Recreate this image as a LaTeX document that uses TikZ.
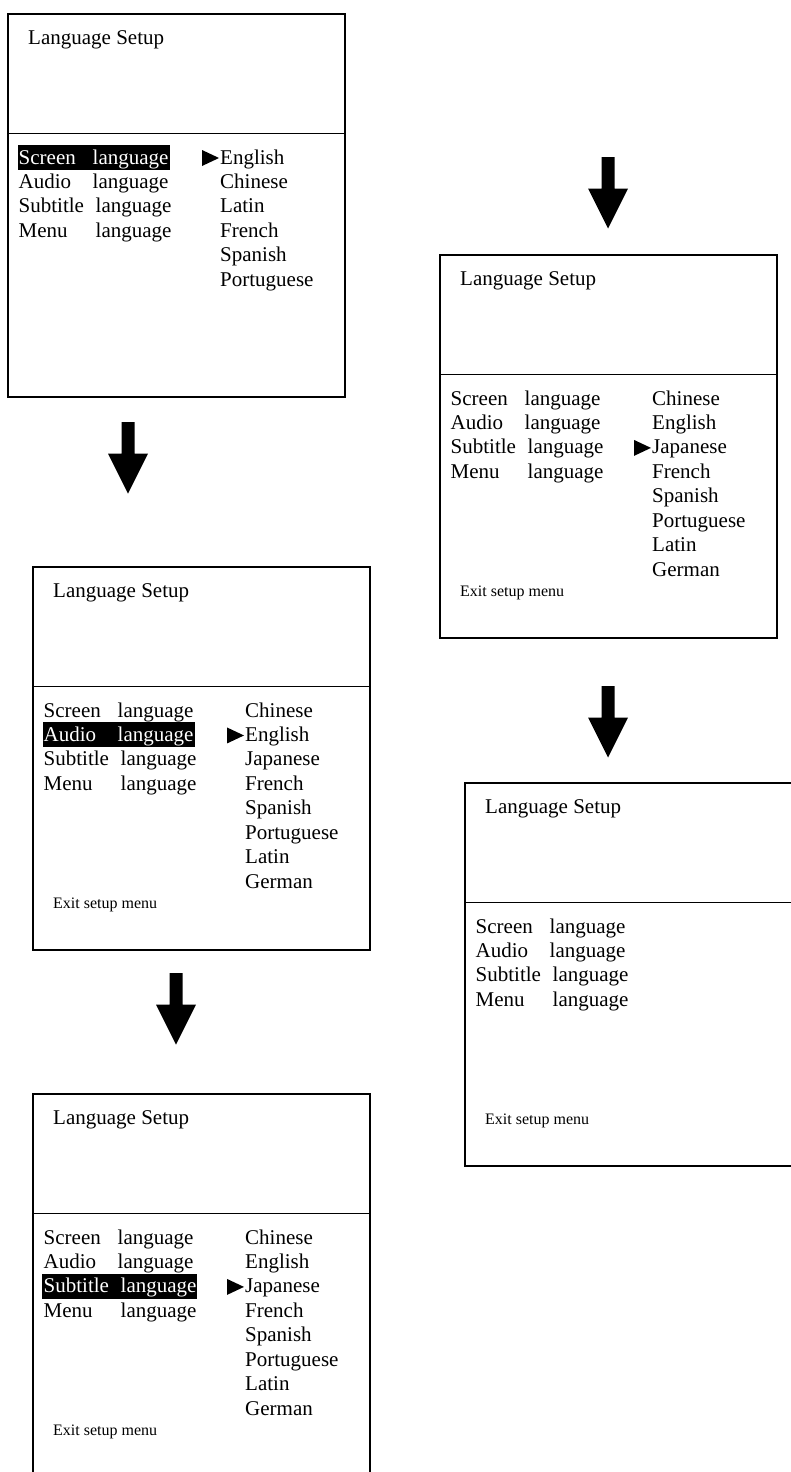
\documentclass[tikz,border=0pt]{standalone}
\usepackage{fontspec}
\setmainfont{Liberation Serif}
\usetikzlibrary{calc}
\tikzset{
  frame/.style={draw, line width=1.8pt, minimum width=337pt, minimum height=383pt, anchor=north west, inner sep=0pt},
  divider/.style={line width=1.8pt},
  txt/.style={anchor=base west, inner sep=0pt, font=\fontsize{21}{24}\selectfont},
  hltxt/.style={txt, text=white},
  small/.style={anchor=base west, inner sep=0pt, font=\fontsize{16}{19}\selectfont},
  hl/.style={fill=black},
  selmark/.style={fill=black},
  blockarrow/.style={fill=black},
}
% geometry helpers
\newcommand\lsrowy[1]{\fpeval{151+24.45*(#1)}}
\newcommand\lsframe[1]{%
  \node[frame] (#1) at (0,0) {};
  \draw[divider] (0,120.5) -- (337,120.5);
  \node[txt] (#1title) at (21,31.5) {Language Setup};
}
\newcommand\lshl[3]{% row index, left x, right x
  \fill[hl] (#2,\fpeval{151+24.45*(#1)-19}) rectangle (#3,\fpeval{151+24.45*(#1)+6});
}
\newcommand\lsleft[4]{% box name, styles of rows 1-3
  \node[#2] (#1scr) at (11.5,\lsrowy{0}) {\makebox[74pt][l]{Screen}language};
  \node[#3] (#1aud) at (11.5,\lsrowy{1}) {\makebox[74pt][l]{Audio}language};
  \node[#4] (#1sub) at (11.5,\lsrowy{2}) {\makebox[77pt][l]{Subtitle}language};
  \node[txt] (#1men) at (11.5,\lsrowy{3}) {\makebox[77pt][l]{Menu}language};
}
\newcommand\lsmark[1]{% row index
  \fill[selmark] (195,\fpeval{151+24.45*(#1)-14}) -- (212,\fpeval{151+24.45*(#1)-6}) -- (195,\fpeval{151+24.45*(#1)+2}) -- cycle;
}
\newcommand\lsarrow[3]{% name, cx, top
  \coordinate (#1top) at (#2,#3);
  \coordinate (#1tip) at (#2,\fpeval{#3+71.5});
  \fill[blockarrow] ($(#1top)+(-6.5,0)$) -- ($(#1top)+(6.5,0)$) -- ($(#1top)+(6.5,31.5)$) -- ($(#1top)+(20,31.5)$) -- (#1tip) -- ($(#1top)+(-20,31.5)$) -- ($(#1top)+(-6.5,31.5)$) -- cycle;
}
\begin{document}
\begin{tikzpicture}[x=1pt, y=-1pt]
\useasboundingbox (0,0) rectangle (791,1472);
\clip (0,0) rectangle (791,1472);

% ---------- Box 1 ----------
\begin{scope}[shift={(7,13)}]
  \lsframe{b1}
  \lshl{0}{10.5}{163}
  \lsleft{b1}{hltxt}{txt}{txt}
  \lsmark{0}
  \node[txt] (b1o1) at (213,\lsrowy{0}) {English};
  \node[txt] (b1o2) at (213,\lsrowy{1}) {Chinese};
  \node[txt] (b1o3) at (213,\lsrowy{2}) {Latin};
  \node[txt] (b1o4) at (213,\lsrowy{3}) {French};
  \node[txt] (b1o5) at (213,\lsrowy{4}) {Spanish};
  \node[txt] (b1o6) at (213,\lsrowy{5}) {Portuguese};
\end{scope}

\lsarrow{a1}{128}{422}

% ---------- Box 2 ----------
\begin{scope}[shift={(32,566)}]
  \lsframe{b2}
  \lshl{1}{10.5}{163}
  \lsleft{b2}{txt}{hltxt}{txt}
  \lsmark{1}
  \node[txt] (b2o1) at (213,\lsrowy{0}) {Chinese};
  \node[txt] (b2o2) at (213,\lsrowy{1}) {English};
  \node[txt] (b2o3) at (213,\lsrowy{2}) {Japanese};
  \node[txt] (b2o4) at (213,\lsrowy{3}) {French};
  \node[txt] (b2o5) at (213,\lsrowy{4}) {Spanish};
  \node[txt] (b2o6) at (213,\lsrowy{5}) {Portuguese};
  \node[txt] (b2o7) at (213,\lsrowy{6}) {Latin};
  \node[txt] (b2o8) at (213,\lsrowy{7}) {German};
  \node[small] (b2exit) at (21,342.5) {Exit setup menu};
\end{scope}

\lsarrow{a2}{176}{973}

% ---------- Box 3 ----------
\begin{scope}[shift={(32,1093)}]
  \lsframe{b3}
  \lshl{2}{10}{165}
  \lsleft{b3}{txt}{txt}{hltxt}
  \lsmark{2}
  \node[txt] (b3o1) at (213,\lsrowy{0}) {Chinese};
  \node[txt] (b3o2) at (213,\lsrowy{1}) {English};
  \node[txt] (b3o3) at (213,\lsrowy{2}) {Japanese};
  \node[txt] (b3o4) at (213,\lsrowy{3}) {French};
  \node[txt] (b3o5) at (213,\lsrowy{4}) {Spanish};
  \node[txt] (b3o6) at (213,\lsrowy{5}) {Portuguese};
  \node[txt] (b3o7) at (213,\lsrowy{6}) {Latin};
  \node[txt] (b3o8) at (213,\lsrowy{7}) {German};
  \node[small] (b3exit) at (21,342.5) {Exit setup menu};
\end{scope}

\lsarrow{a3}{608}{157}

% ---------- Box R1 ----------
\begin{scope}[shift={(439,254)}]
  \lsframe{r1}
  \lsleft{r1}{txt}{txt}{txt}
  \lsmark{2}
  \node[txt] (r1o1) at (213,\lsrowy{0}) {Chinese};
  \node[txt] (r1o2) at (213,\lsrowy{1}) {English};
  \node[txt] (r1o3) at (213,\lsrowy{2}) {Japanese};
  \node[txt] (r1o4) at (213,\lsrowy{3}) {French};
  \node[txt] (r1o5) at (213,\lsrowy{4}) {Spanish};
  \node[txt] (r1o6) at (213,\lsrowy{5}) {Portuguese};
  \node[txt] (r1o7) at (213,\lsrowy{6}) {Latin};
  \node[txt] (r1o8) at (213,\lsrowy{7}) {German};
  \node[small] (r1exit) at (21,342.5) {Exit setup menu};
\end{scope}

\lsarrow{a4}{608}{686}

% ---------- Box R2 ----------
\begin{scope}[shift={(464,782)}]
  \lsframe{r2}
  \lsleft{r2}{txt}{txt}{txt}
  \node[small] (r2exit) at (21,342.5) {Exit setup menu};
\end{scope}

\end{tikzpicture}
\end{document}
